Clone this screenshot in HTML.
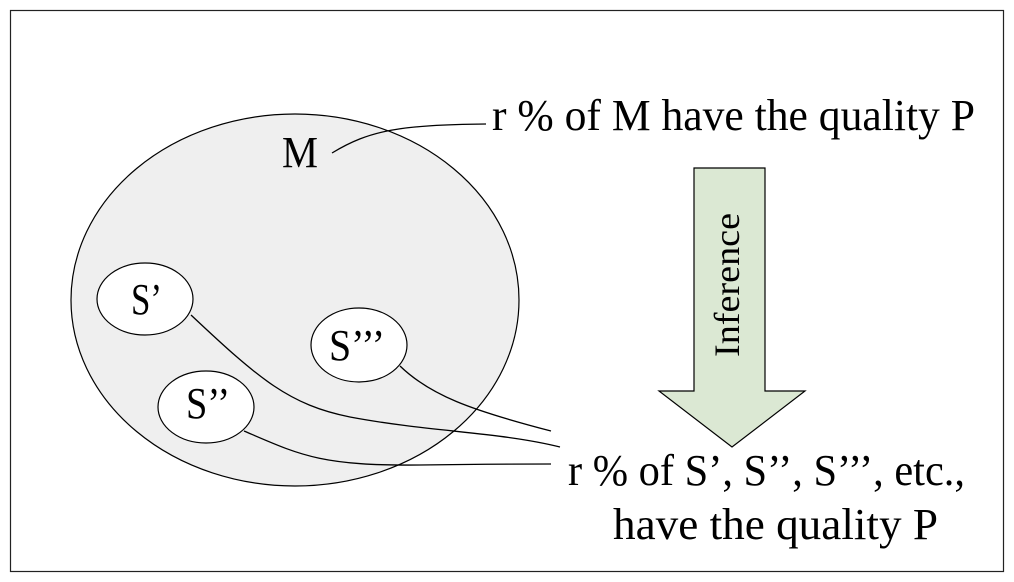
<!DOCTYPE html>
<html><head><meta charset="utf-8"><style>
html,body{margin:0;padding:0;background:#fff;}
svg{display:block;}
text{font-family:"Liberation Serif",serif;fill:#000;}
</style></head><body>
<svg width="1014" height="582" viewBox="0 0 1014 582" xmlns="http://www.w3.org/2000/svg">
<rect x="10.5" y="10.5" width="993" height="561" fill="#fff" stroke="#222" stroke-width="1.2"/>
<ellipse cx="295" cy="300" rx="224" ry="186" fill="#efefef" stroke="#000" stroke-width="1.2"/>
<ellipse cx="145" cy="299" rx="48" ry="36" fill="#fff" stroke="#000" stroke-width="1.2"/>
<ellipse cx="359" cy="345" rx="48" ry="37" fill="#fff" stroke="#000" stroke-width="1.2"/>
<ellipse cx="206" cy="407" rx="48" ry="36" fill="#fff" stroke="#000" stroke-width="1.2"/>
<g fill="none" stroke="#000" stroke-width="1.3">
<path d="M332 153 C370 130 400 125 486 124"/>
<path d="M191 315 C260 380 290 405 350 417 C430 432 500 432 560 447"/>
<path d="M400 366 C430 395 470 410 551 431"/>
<path d="M244 431 C300 455 320 466 420 465 C480 464 520 464 551 464"/>
</g>
<polygon points="694,168 765,168 765,391 805,391 732,447 659,391 694,391" fill="#dbe8d3" stroke="#000" stroke-width="1.2"/>
<text x="0" y="0" font-size="36" text-anchor="middle" textLength="144" lengthAdjust="spacingAndGlyphs" transform="translate(739,285) rotate(-90)">Inference</text>
<text x="282" y="167" font-size="44" textLength="36" lengthAdjust="spacingAndGlyphs">M</text>
<text x="492" y="130" font-size="44" textLength="483" lengthAdjust="spacingAndGlyphs">r % of M have the quality P</text>
<text x="131" y="314" font-size="44" textLength="31" lengthAdjust="spacingAndGlyphs">S’</text>
<text x="329" y="360" font-size="44" textLength="56" lengthAdjust="spacingAndGlyphs">S’’’</text>
<text x="186" y="418" font-size="44" textLength="44" lengthAdjust="spacingAndGlyphs">S’’</text>
<text x="568" y="485" font-size="44" textLength="397" lengthAdjust="spacingAndGlyphs">r % of S’, S’’, S’’’, etc.,</text>
<text x="613" y="539" font-size="44" textLength="325" lengthAdjust="spacingAndGlyphs">have the quality P</text>
</svg>
</body></html>
